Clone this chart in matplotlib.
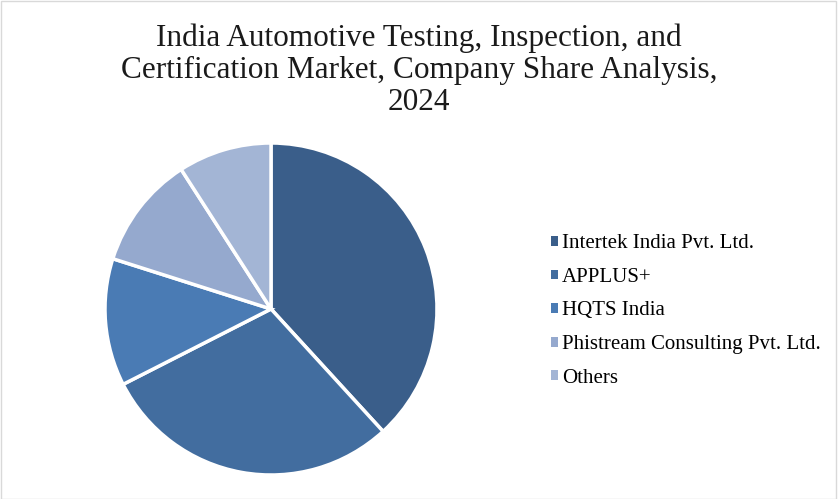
import matplotlib
matplotlib.use('Agg')
import matplotlib.pyplot as plt
from matplotlib.patches import Rectangle

# Company shares (%)
companies = ['Intertek India Pvt. Ltd.', 'APPLUS+', 'HQTS India',
             'Phistream Consulting Pvt. Ltd.', 'Others']
shares = [38.2, 29.3, 12.4, 11.0, 9.1]
colors = ['#3A5E8A', '#426D9F', '#4A7BB4', '#95A9CE', '#A3B5D5']

plt.rcParams['font.family'] = ['Liberation Serif', 'DejaVu Serif']

fig = plt.figure(figsize=(8.38, 4.99), dpi=100)
fig.patches.append(Rectangle((0.001, 0.001), 0.997, 0.996, transform=fig.transFigure,
                             fill=False, edgecolor='#D9D9D9', linewidth=1))

fig.text(0.5, 0.952, 'India Automotive Testing, Inspection, and\n'
         'Certification Market, Company Share Analysis,\n2024',
         ha='center', va='top', fontsize=22.5, linespacing=1.12, color='#1a1a1a')

# pie centre ~ (271, 309) px, radius 166 px
r = 166
ax = fig.add_axes([(271 - r) / 838, (499 - 309 - r) / 499, 2 * r / 838, 2 * r / 499])
wedges, _ = ax.pie(shares, colors=colors, startangle=90, counterclock=False,
                   wedgeprops=dict(edgecolor='white', linewidth=2.5))
ax.set_xlim(-1, 1)
ax.set_ylim(-1, 1)

leg = fig.legend(wedges, companies, loc='center left', bbox_to_anchor=(532 / 838, 1 - 311 / 499),
                 frameon=False, fontsize=15, handlelength=0.35, handleheight=0.35,
                 handletextpad=0.2, labelspacing=0.7)
for h in leg.legend_handles:
    h.set_linewidth(0)

fig.savefig('out.png', dpi=100)
